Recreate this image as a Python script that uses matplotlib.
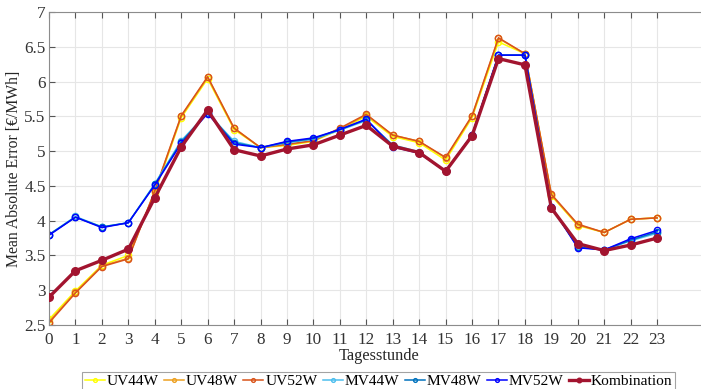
import matplotlib
matplotlib.use("Agg")
import matplotlib.pyplot as plt
import numpy as np

hours = list(range(24))
uv44w = [2.58, 2.99, 3.36, 3.50, 4.40, 5.48, 6.04, 5.31, 5.05, 5.08, 5.14, 5.31, 5.50, 5.21, 5.12, 4.87, 5.48, 6.57, 6.40, 4.36, 3.93, 3.83, 4.02, 4.04]
uv48w = [2.55, 2.97, 3.35, 3.46, 4.42, 5.50, 6.06, 5.33, 5.05, 5.09, 5.15, 5.32, 5.52, 5.23, 5.14, 4.90, 5.50, 6.62, 6.40, 4.37, 3.94, 3.83, 4.02, 4.04]
uv52w = [2.53, 2.96, 3.34, 3.45, 4.43, 5.51, 6.07, 5.33, 5.05, 5.10, 5.15, 5.33, 5.53, 5.23, 5.14, 4.91, 5.51, 6.63, 6.40, 4.38, 3.95, 3.83, 4.02, 4.04]
mv44w = [3.80, 4.06, 3.91, 3.97, 4.53, 5.15, 5.55, 5.14, 5.05, 5.12, 5.17, 5.30, 5.44, 5.09, 4.99, 4.71, 5.23, 6.38, 6.38, 4.20, 3.63, 3.58, 3.71, 3.82]
mv48w = [3.80, 4.05, 3.91, 3.97, 4.52, 5.13, 5.55, 5.12, 5.05, 5.13, 5.18, 5.31, 5.45, 5.08, 4.98, 4.71, 5.23, 6.38, 6.38, 4.20, 3.62, 3.58, 3.72, 3.84]
mv52w = [3.79, 4.05, 3.90, 3.97, 4.51, 5.11, 5.54, 5.10, 5.05, 5.14, 5.19, 5.31, 5.46, 5.06, 4.97, 4.71, 5.23, 6.38, 6.38, 4.20, 3.61, 3.58, 3.74, 3.86]
kombination = [2.90, 3.28, 3.43, 3.59, 4.33, 5.06, 5.59, 5.02, 4.93, 5.03, 5.09, 5.23, 5.37, 5.07, 4.98, 4.71, 5.22, 6.33, 6.24, 4.18, 3.67, 3.57, 3.65, 3.75]

labels = ["UV44W", "UV48W", "UV52W", "MV44W", "MV48W", "MV52W", "Kombination"]
colors = ["#FFFF00", "#EDA020", "#D95319", "#4DBEEE", "#0072BD", "#0000FF", "#A2142F"]
series = [uv44w, uv48w, uv52w, mv44w, mv48w, mv52w, kombination]

plt.rcParams['font.family'] = ['Liberation Serif', 'DejaVu Serif']
plt.rcParams['font.size'] = 11.3

fig = plt.figure(figsize=(7.01, 3.89), dpi=100)
ax = fig.add_axes([49/701, 1 - 325/389, (710 - 49)/701, (325 - 12)/389])

for s, c, l in zip(series, colors, labels):
    if l == "Kombination":
        ax.plot(hours, s, color=c, lw=2.4, marker='o', ms=5.5, mfc=c, mec=c, label=l, zorder=5)
    else:
        ax.plot(hours, s, color=c, lw=1.1, marker='o', ms=4.5, mfc='none', mec=c, mew=1.0, label=l)

ax.set_xlim(0, 25)
ax.set_ylim(2.5, 7)
ax.set_xticks(hours)
ax.set_yticks(np.arange(2.5, 7.01, 0.5))
ax.set_yticklabels(["2.5", "3", "3.5", "4", "4.5", "5", "5.5", "6", "6.5", "7"])
ax.grid(True, color='#E6E6E6', lw=0.8)
ax.set_axisbelow(True)
ax.tick_params(direction='in', top=True, right=True, length=4, color='#555555',
               labelcolor='#333333', labelsize=12.3)
ax.tick_params(axis='x', pad=5)
ax.tick_params(axis='y', pad=2.5)
for sp in ax.spines.values():
    sp.set_color('#8c8c8c')
ax.set_xlabel("Tagesstunde", fontsize=11.8, color='#262626', labelpad=0)
ax.set_ylabel("Mean Absolute Error [€/MWh]", fontsize=11.3, color='#262626')
ax.yaxis.set_label_coords(-27/661, 0.5)

leg = fig.legend(loc='upper center', bbox_to_anchor=(378.5/701, 1 - 372/389), ncol=7,
                 frameon=True, fancybox=False, edgecolor='#8c8c8c', fontsize=11.1,
                 handlelength=1.3, handletextpad=0.12, columnspacing=0.35, borderpad=0.15,
                 borderaxespad=0, markerscale=0.6)
leg.get_frame().set_linewidth(0.8)

fig.savefig("out.png", dpi=100)
